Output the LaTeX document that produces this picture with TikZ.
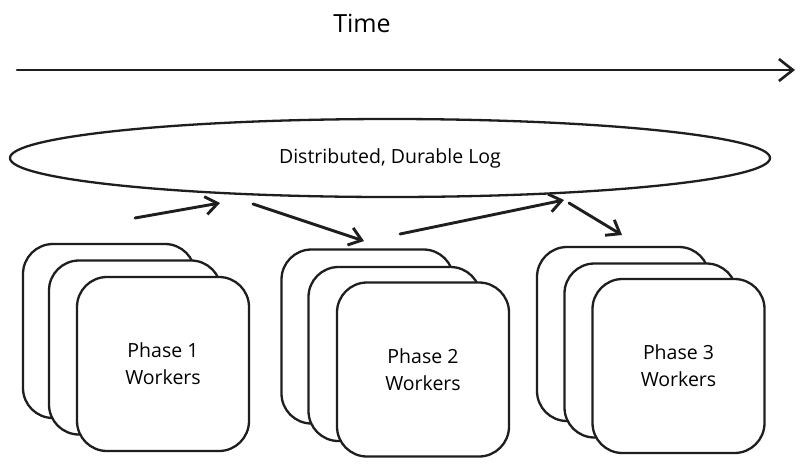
\documentclass[tikz,border=0pt]{standalone}
\usepackage{fontspec}
\setmainfont{Open Sans}
\usetikzlibrary{arrows.meta,shapes.geometric}
\begin{document}
\begin{tikzpicture}[x=1pt,y=-1pt,
  line width=2.3pt, line cap=round, line join=round, draw={rgb,255:red,30;green,30;blue,30},
  worker/.style={draw, fill=white, rounded corners=30pt, minimum width=172pt, minimum height=174pt, inner sep=0pt, align=center, font=\fontsize{19.5}{27}\selectfont},
  flow/.style={line width=2.9pt, -{Straight Barb[length=12pt,width=18pt,line width=2.9pt]}},
  lbl/.style={font=\fontsize{21}{25}\selectfont}]
\useasboundingbox (0,0) rectangle (800,475);
\fill[white] (0,0) rectangle (800,475);
% time axis
\node[lbl, font=\fontsize{25}{28}\selectfont] (time) at (362,23) {Time};
\coordinate (t0) at (17,70);
\coordinate (t1) at (795,70);
\draw[line width=2.6pt, -{Straight Barb[length=14pt,width=22pt,line width=2.6pt]}] (t0) -- (t1);
% log
\node[draw, ellipse, line width=2.3pt, minimum width=760pt, minimum height=78pt, inner sep=0pt, font=\fontsize{19.5}{23}\selectfont] (log) at (390,158) {Distributed, Durable Log};
% worker groups
\node[worker] (w1a) at (109,331) {};
\node[worker] (w1b) at (135,347.5) {};
\node[worker] (w1c) at (163,364) {Phase 1\\Workers};
\node[worker] (w2a) at (367.5,336.5) {};
\node[worker] (w2b) at (394.5,354) {};
\node[worker] (w2c) at (423,369.5) {Phase 2\\Workers};
\node[worker] (w3a) at (623,334) {};
\node[worker] (w3b) at (650.5,350.5) {};
\node[worker] (w3c) at (678.5,366) {Phase 3\\Workers};
% flow arrows
\coordinate (a1s) at (135,218);
\coordinate (a1e) at (220,203);
\coordinate (a2s) at (253,204);
\coordinate (a2e) at (364,241);
\coordinate (a3s) at (400,234);
\coordinate (a3e) at (564,200);
\coordinate (a4s) at (569,203);
\coordinate (a4e) at (622,235);
\draw[flow] (a1s) -- (a1e);
\draw[flow] (a2s) -- (a2e);
\draw[flow] (a3s) -- (a3e);
\draw[flow] (a4s) -- (a4e);
\end{tikzpicture}
\end{document}
